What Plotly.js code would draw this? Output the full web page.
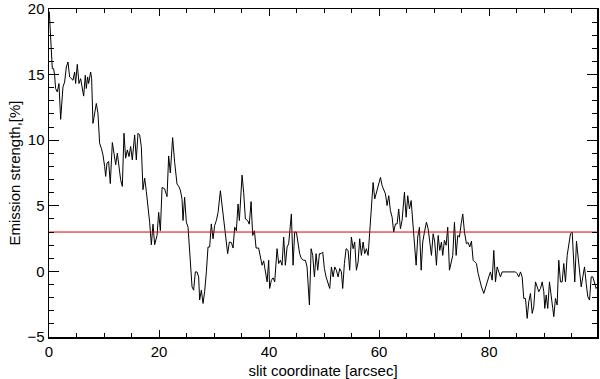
<!DOCTYPE html>
<html>
<head>
<meta charset="utf-8">
<script src="https://cdn.plot.ly/plotly-3.0.1.min.js"></script>
<style>
  html, body { margin: 0; padding: 0; background: #fff; }
  #chart { width: 600px; height: 379px; }
</style>
</head>
<body>
<div id="chart"></div>
<script>
// slit positions (arcsec)
const slitX = [
  0.05, 0.35, 0.6, 0.84, 1.02, 1.2, 1.51, 1.81, 2.12, 2.54, 2.84, 3.15, 3.45, 3.75, 4.06, 4.36, 4.66, 4.84, 5.14, 5.45,
  5.75, 6.0, 6.3, 6.6, 6.78, 7.02, 7.2, 7.57, 7.75, 7.99, 8.36, 8.6, 8.9, 9.2, 9.51, 9.81, 10.11, 10.3, 10.54, 10.84,
  11.14, 11.51, 11.81, 12.12, 12.42, 12.72, 13.02, 13.33, 13.63, 13.93, 14.24, 14.54, 14.84, 15.14, 15.39, 15.57, 15.87, 16.17, 16.48, 16.78,
  17.08, 17.39, 17.69, 17.99, 18.3,
  18.6, 18.91, 19.2, 19.64, 19.93, 20.24, 20.55, 21.0, 21.45, 21.75, 22.05, 22.47, 22.84, 23.27, 23.56, 23.87, 24.18, 24.36, 24.65, 24.96,
  25.27, 25.69, 26.0, 26.29, 26.6, 26.9, 27.2, 27.38, 27.69, 28.0, 28.29, 28.6, 28.9, 29.2, 29.5, 29.82, 30.11, 30.42, 30.73, 31.15,
  31.45, 31.75, 32.05, 32.47, 32.78, 33.15, 33.45, 33.75, 34.05, 34.36, 34.6, 35.09, 35.38, 35.69, 36.1, 36.4, 36.73, 37.02, 37.33, 37.64,
  38.1, 38.42, 38.73, 39.02, 39.33, 39.64, 39.93, 40.1,
  40.42, 40.73, 41.02, 41.45, 41.75, 42.05, 42.36, 42.65, 42.96, 43.27, 43.56, 43.75, 44.05, 44.36, 44.65, 44.96, 45.27, 45.56, 45.87, 46.29,
  46.6, 46.9, 47.33, 47.64, 47.93, 48.24, 48.55, 48.84, 49.15, 49.45, 49.75, 50.05, 50.36, 50.65, 51.02, 51.33, 51.64, 51.93, 52.24, 52.55,
  52.84, 53.15, 53.38, 53.69, 54.0, 54.36, 54.65, 54.96, 55.27, 55.56, 55.87, 56.18, 56.47, 56.78, 57.09, 57.38, 57.69, 58.0, 58.29, 58.6,
  58.91, 59.2, 59.64, 60.05,
  60.24, 60.55, 60.84, 61.15, 61.45, 61.75, 62.05, 62.36, 62.65, 62.96, 63.27, 63.56, 63.87, 64.18, 64.6, 64.91, 65.2, 65.51, 65.82, 66.11,
  66.42, 66.73, 67.02, 67.33, 67.64, 67.93, 68.24, 68.6, 68.91, 69.2, 69.51, 69.82, 70.11, 70.42, 70.73, 71.02, 71.33, 71.56, 71.87, 72.18,
  72.47, 72.78, 73.09, 73.38, 73.69, 74.0, 74.29, 74.6, 74.91, 75.2, 75.51,
  75.87, 76.18, 76.47, 76.78, 77.09, 77.38, 77.69, 78.0, 78.29, 78.6, 79.02, 79.33, 79.64, 79.93, 80.24, 80.55, 80.84, 81.15, 81.45, 81.75,
  82.05, 82.36, 82.96, 83.56, 84.18, 84.78, 85.09, 85.38, 85.69, 86.0, 86.29, 86.6, 86.91, 87.2, 87.51, 87.82, 88.11, 88.42, 88.73, 89.02,
  89.33, 89.64, 89.93, 90.11, 90.36, 90.65, 90.96, 91.27, 91.56, 91.75, 92.05, 92.36, 92.65, 92.96, 93.27, 93.56, 93.87, 94.18, 94.47, 94.78,
  95.09, 95.38, 95.56, 95.87, 96.18, 96.47, 96.73, 97.02, 97.33, 97.64, 97.93, 98.24, 98.55, 98.84, 99.15, 99.45, 99.8
];

// emission strength (%), same order as slitX
const emission = [
  19.8, 17.4, 15.45, 15.45, 14.95, 13.94, 13.68, 14.32, 11.59, 14.06, 14.44, 15.58, 15.96, 14.82, 14.69, 14.57, 15.2, 14.32, 15.78, 14.32,
  14.69, 14.06, 13.36, 14.95, 13.94, 14.82, 14.32, 15.2, 14.69, 11.28, 12.04, 12.8, 12.04, 9.77, 9.39, 8.88, 8.0, 7.24, 8.25, 8.38,
  6.69, 9.82, 9.01, 8.13, 9.01, 8.0, 6.99, 6.48, 10.53, 8.63, 9.26, 8.75, 9.52, 8.5, 9.64, 10.4, 8.5, 10.53, 10.4, 9.52,
  6.23, 7.11, 6.1, 4.97, 3.71,
  2.03, 3.6, 2.03, 2.74, 4.5, 3.1, 6.4, 6.3, 5.7, 8.8, 7.5, 10.2, 8.3, 6.66, 6.5, 6.2, 5.5, 3.88, 5.65, 3.75,
  3.37, 0.97, -1.18, -1.43, -0.04, -0.04, -0.42, -2.18, -1.43, -2.44, -1.55, -0.04, 1.86, 1.86, 3.62, 2.49, 3.5, 3.88, 4.5, 6.15,
  5.14, 4.0, 2.74, 1.35, 2.24, 2.2, 1.78, 3.37, 3.1, 5.14, 3.88, 7.34, 6.03, 4.0, 3.88, 3.6, 5.32, 2.74, 3.1, 1.78,
  1.78, 1.1, 0.47, 0.8, -0.04, -0.8, 0.85, -1.3,
  -0.67, -0.49, -0.8, 1.73, 0.6, 0.85, 0.47, 2.62, 0.47, 1.86, 2.1, 3.0, 4.38, 0.47, 3.0, 3.0, 1.99, 1.35, 0.97, 0.85,
  0.85, 0.34, -2.56, 1.73, 1.22, -0.42, 1.35, 0.09, 1.35, 1.35, 1.48, 0.22, -0.42, -0.8, -1.3, 0.34, -0.42, 0.34, 0.09, -0.42,
  0.22, -0.04, -1.3, 0.6, 1.73, 1.6, 0.09, 2.62, 1.73, 2.24, 0.09, 0.72, 2.49, 1.22, 2.24, 1.35, 1.73, 1.22, 3.0, 4.64,
  6.78, 5.52, 6.3, 7.04,
  7.16, 6.53, 6.28, 5.9, 5.02, 5.77, 4.64, 4.13, 3.0, 3.62, 3.62, 4.76, 3.25, 3.9, 6.03, 4.13, 5.77, 4.76, 5.4, 3.88,
  1.99, 0.47, 2.62, 3.37, 0.09, 2.24, 3.0, 3.75, 3.25, 2.24, 1.22, 2.87, 2.24, 0.47, 2.74, 1.6, 2.24, 1.22, 2.37, 1.99,
  3.37, 0.09, 0.6, 1.22, 3.75, 1.22, 2.74, 2.62, 3.62, 4.38, 3.0,
  2.11, 2.2, 1.86, 2.3, 0.85, 0.72, 0.6, -0.17, -0.8, -1.18, -1.68, -1.18, -0.67, -0.42, -0.04, -0.67, 1.6, -0.8, 0.34, -0.04,
  -0.42, -0.04, -0.04, -0.04, -0.04, -0.04, -0.17, -0.42, -0.04, -0.42, -2.06, -2.06, -3.58, -2.31, -1.68, -3.2, -2.69, -0.8, -1.18, -1.55,
  -1.3, -0.8, -1.55, -2.82, -1.8, -2.82, -0.8, -2.06, -2.82, -3.45, -2.06, -2.56, 0.85, -0.8, -0.8, 0.6, -0.8, 1.22, 1.99, 2.87,
  3.0, 1.1, -0.8, 2.3, 1.1, -0.04, -1.18, -0.42, 0.34, -0.93, -1.93, -2.18, -0.42, -0.42, -0.8, -1.3, -1.1
];

const xRange = [0, 99.6];
const yRange = [-5.0001, 20.0001];
const threshold = 3;

const font = { family: '"Liberation Sans", Arial, Helvetica, sans-serif', size: 15, color: '#000' };

const traces = [
  { x: slitX, y: emission, type: 'scatter', mode: 'lines', line: { color: '#000', width: 1 }, hoverinfo: 'skip' },
  { x: xRange, y: [threshold, threshold], type: 'scatter', mode: 'lines', line: { color: '#e00000', width: 1 }, hoverinfo: 'skip' }
];

const axisCommon = {
  showgrid: false, zeroline: false,
  showline: true, linecolor: '#000', linewidth: 1.5, mirror: 'ticks',
  ticks: 'inside', tickcolor: '#000', tickwidth: 1,
  tickfont: font, ticklabeloverflow: 'allow'
};

const layout = {
  width: 600, height: 379,
  margin: { l: 49, r: 3, t: 9, b: 42 },
  paper_bgcolor: '#fff', plot_bgcolor: '#fff',
  showlegend: false,
  font: font,
  xaxis: Object.assign({}, axisCommon, {
    range: xRange, dtick: 20, tick0: 0, ticklen: 7,
    minor: { dtick: 5, ticklen: 4, ticks: 'inside', tickcolor: '#000', showgrid: false },
    title: { text: 'slit coordinate [arcsec]', font: font, standoff: 7 }
  }),
  yaxis: Object.assign({}, axisCommon, {
    range: yRange, dtick: 5, tick0: 0, ticklen: 10,
    minor: { dtick: 1, ticklen: 5, ticks: 'inside', tickcolor: '#000', showgrid: false },
    title: { text: 'Emission strength,[%]', font: font, standoff: 3 }
  })
};

Plotly.newPlot('chart', traces, layout, { displayModeBar: false, staticPlot: true });
</script>
</body>
</html>
